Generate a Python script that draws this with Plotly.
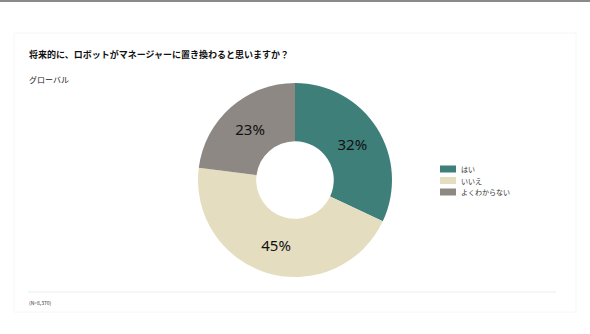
import plotly.graph_objects as go

labels = ["はい", "いいえ", "よくわからない"]
values = [32, 45, 23]
colors = ["#3F7F7A", "#E5DDBF", "#8D8883"]

W, H = 590, 334
cx, cy, r = 295, 180, 97

fig = go.Figure(go.Pie(
    labels=labels, values=values, sort=False, direction="clockwise", rotation=0,
    hole=0.4, marker=dict(colors=colors, line=dict(width=0)),
    texttemplate="%{value}%", textposition="inside", insidetextorientation="horizontal",
    textfont=dict(size=15, color="#111", family="Noto Sans, Noto Sans CJK JP"),
    domain=dict(x=[(cx - r) / W, (cx + r) / W], y=[(H - cy - r) / H, (H - cy + r) / H]),
    hoverinfo="skip", showlegend=False,
))

font = "Noto Sans CJK JP"
shapes = [
    dict(type="line", xref="paper", yref="paper", x0=0, x1=1, y0=1 - 1 / H, y1=1 - 1 / H,
         line=dict(color="#8a8a8a", width=2)),
    dict(type="rect", xref="paper", yref="paper", x0=14 / W, x1=576 / W, y0=1 - 312 / H, y1=1 - 33 / H,
         line=dict(color="#f6f6f6", width=1)),
    dict(type="line", xref="paper", yref="paper", x0=28 / W, x1=556 / W, y0=1 - 292 / H, y1=1 - 292 / H,
         line=dict(color="#eeeeee", width=1)),
]
annotations = [
    dict(text="<b>将来的に、ロボットがマネージャーに置き換わると思いますか？</b>", xref="paper", yref="paper",
         x=27 / W, y=1 - 54 / H, xanchor="left", yanchor="middle", showarrow=False,
         font=dict(size=9, color="#111", family=font)),
    dict(text="グローバル", xref="paper", yref="paper",
         x=27 / W, y=1 - 79 / H, xanchor="left", yanchor="middle", showarrow=False,
         font=dict(size=8, color="#222", family=font)),
    dict(text="(N=8,370)", xref="paper", yref="paper",
         x=27 / W, y=1 - 302 / H, xanchor="left", yanchor="middle", showarrow=False,
         font=dict(size=5, color="#333", family=font)),
]

# manual legend
ly0, ldy = 169, 11.5
for i, (lab, col) in enumerate(zip(labels, colors)):
    yc = ly0 + i * ldy
    shapes.append(dict(type="rect", xref="paper", yref="paper",
                       x0=440 / W, x1=456 / W, y0=1 - (yc + 3.5) / H, y1=1 - (yc - 3.5) / H,
                       fillcolor=col, line=dict(width=0)))
    annotations.append(dict(text=lab, xref="paper", yref="paper", x=459 / W, y=1 - yc / H,
                            xanchor="left", yanchor="middle", showarrow=False,
                            font=dict(size=7, color="#333", family=font)))

fig.update_layout(
    width=W, height=H, margin=dict(l=0, r=0, t=0, b=0),
    paper_bgcolor="white", plot_bgcolor="white",
    font=dict(family=font, color="#222"),
    showlegend=False, shapes=shapes, annotations=annotations,
)

fig.write_html("out.html")
